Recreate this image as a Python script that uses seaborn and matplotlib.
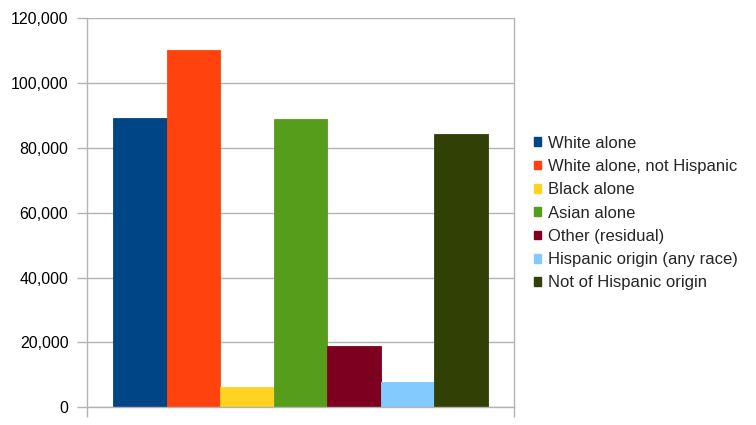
import matplotlib
matplotlib.use("Agg")
import matplotlib.pyplot as plt
import seaborn as sns
import pandas as pd
from matplotlib.ticker import FuncFormatter, MultipleLocator
from matplotlib.patches import Patch

groups = ["White alone", "White alone, not Hispanic", "Black alone", "Asian alone",
          "Other (residual)", "Hispanic origin (any race)", "Not of Hispanic origin"]
values = [89200, 110200, 6250, 88900, 18900, 7700, 84300]
colors = ["#004586", "#ff420e", "#ffd320", "#579d1c", "#7e0021", "#83caff", "#314004"]
category = [""] * len(groups)

df = pd.DataFrame({"cat": category, "group": groups, "value": values})

sns.set_style("white")
plt.rcParams['font.family'] = ['Liberation Sans', 'DejaVu Sans']

fig = plt.figure(figsize=(7.56, 4.25), dpi=100)
ax = fig.add_axes([86.5/756, (425-407.3)/425, (514.3-86.5)/756, (407.3-18.3)/425])

sns.barplot(data=df, x="cat", y="value", hue="group", hue_order=groups,
            palette=colors, width=0.875, ax=ax, legend=False, saturation=1,
            linewidth=0.6, edgecolor=None)
for p, c in zip(ax.patches, colors):
    p.set_edgecolor(c)

ax.set_xlim(-0.5, 0.5)
ax.set_ylim(0, 120000)
ax.yaxis.set_major_locator(MultipleLocator(20000))
ax.yaxis.set_major_formatter(FuncFormatter(lambda v, _: f"{int(v):,}"))
ax.set_xlabel("")
ax.set_ylabel("")
ax.set_xticks([-0.5, 0.5])
ax.set_xticklabels([])
ax.tick_params(axis='x', length=7, color="#b3b3b3", width=1, direction='out', bottom=True)
ax.tick_params(axis='y', length=7, color="#b3b3b3", width=1, direction='out', left=True,
               labelsize=11.5, pad=6, labelcolor="black")
ax.grid(axis='y', color="#b3b3b3", linewidth=1)
ax.grid(axis='x', visible=False)
ax.set_axisbelow(True)
for s in ax.spines.values():
    s.set_color("#b3b3b3")
    s.set_linewidth(1)
    s.set_visible(True)
ax.spines['top'].set_visible(False)

handles = [Patch(facecolor=c, edgecolor=c, label=g) for g, c in zip(groups, colors)]
fig.legend(handles=handles, loc="center left", bbox_to_anchor=(534/756, 212/425),
           frameon=False, fontsize=12, handlelength=0.42, handleheight=0.42,
           handletextpad=0.45, labelspacing=0.5, borderaxespad=0, borderpad=0)

fig.savefig("out.png", dpi=100)
